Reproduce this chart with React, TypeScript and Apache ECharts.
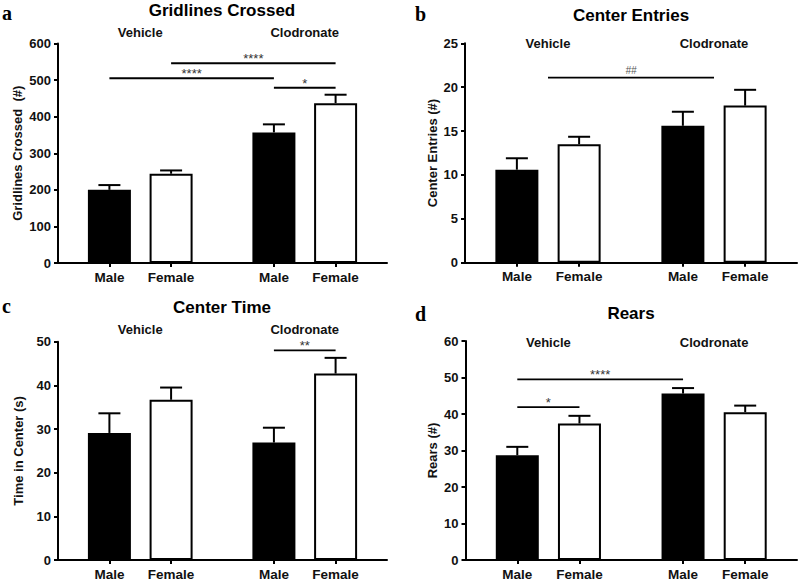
import React, { useEffect, useRef } from "react";
import * as echarts from "echarts";

// ---------- data ----------
const categories = ["Male", "Female", "Male", "Female"];
const groups = ["Vehicle", "Clodronate"];

const gridlinesMean = [200, 244, 357, 437];
const gridlinesSem = [13, 9, 22, 23];
const entriesMean = [10.6, 13.5, 15.6, 17.9];
const entriesSem = [1.3, 0.85, 1.6, 1.8];
const timeMean = [29.1, 36.7, 26.9, 42.7];
const timeSem = [4.5, 2.8, 3.4, 3.6];
const rearsMean = [28.7, 37.4, 45.6, 40.5];
const rearsSem = [2.3, 2.1, 1.5, 1.8];

// significance: [fromBar, toBar, value, label]  (x.5 = midpoint of a group)
const gridlinesSig: any[] = [[0, 2, 505, "****"], [1, 3, 546, "****"], [2, 3, 479, "*"]];
const entriesSig: any[] = [[0.5, 2.5, 21.1, "##"]];
const timeSig: any[] = [[2, 3, 48.0, "**"]];
const rearsSig: any[] = [[0, 2, 49.5, "****"], [0, 1, 41.9, "*"]];

const titles = ["Gridlines Crossed", "Center Entries", "Center Time", "Rears"];
const yNames = ["Gridlines Crossed  (#)", "Center Entries (#)", "Time in Center (s)", "Rears (#)"];
const yMax = [600, 25, 50, 60];
const yStep = [100, 5, 10, 10];
const panelLetters = ["a", "b", "c", "d"];

// ---------- layout ----------
const SLOT = [2, 5, 10, 13];
const N_SLOTS = 16;
const GRIDS = [
  { left: 58, top: 43.5, width: 329, height: 219.5 },
  { left: 465, top: 43.3, width: 332, height: 219.4 },
  { left: 58, top: 341.7, width: 329, height: 218.3 },
  { left: 465.5, top: 341, width: 331.5, height: 219 },
];
const NAME_GAPS = [34, 26.5, 33.5, 27];
const FONT = '"Liberation Sans", Arial, sans-serif';

function barToSlot(b: number) {
  const f = Math.floor(b);
  const c = Math.ceil(b);
  return SLOT[f] + (b - f) * (SLOT[c] - SLOT[f]);
}

const panels = [
  { mean: gridlinesMean, sem: gridlinesSem, sig: gridlinesSig },
  { mean: entriesMean, sem: entriesSem, sig: entriesSig },
  { mean: timeMean, sem: timeSem, sig: timeSig },
  { mean: rearsMean, sem: rearsSem, sig: rearsSig },
];

function txt(text: string, x: number, y: number, font: string, align = "center", vAlign = "middle", fill = "#000") {
  return {
    type: "text",
    x,
    y,
    silent: true,
    style: {
      text,
      font,
      fill,
      align,
      verticalAlign: vAlign,
      textAlign: align,
      textVerticalAlign: vAlign,
    },
  };
}

export default function App() {
  const ref = useRef<HTMLDivElement>(null);
  useEffect(() => {
    if (!ref.current) return;
    const chart = echarts.init(ref.current, undefined, { renderer: "svg" });
    const slotLabels = Array.from({ length: N_SLOTS }, () => "");
    SLOT.forEach((s, i) => (slotLabels[s] = categories[i]));
    const showIdx = (idx: number) => SLOT.indexOf(idx) >= 0;

    const grid: any[] = [];
    const xAxis: any[] = [];
    const yAxis: any[] = [];
    const series: any[] = [];

    panels.forEach((p, pi) => {
      grid.push({ ...GRIDS[pi], containLabel: false });
      xAxis.push({
        type: "category",
        gridIndex: pi,
        data: slotLabels,
        boundaryGap: true,
        axisLine: { lineStyle: { color: "#000", width: 2 } },
        axisTick: { show: true, alignWithLabel: true, interval: (i: number) => showIdx(i), length: 4, lineStyle: { color: "#000", width: 2 } },
        axisLabel: { interval: (i: number) => showIdx(i), color: "#111", fontFamily: FONT, fontWeight: "bold", fontSize: 13.5, margin: 7 },
        splitLine: { show: false },
      });
      yAxis.push({
        type: "value",
        gridIndex: pi,
        min: 0,
        max: yMax[pi],
        interval: yStep[pi],
        name: yNames[pi],
        nameLocation: "middle",
        nameGap: NAME_GAPS[pi],
        nameTextStyle: { color: "#111", fontFamily: FONT, fontWeight: "bold", fontSize: 13 },
        axisLine: { show: true, lineStyle: { color: "#000", width: 2 } },
        axisTick: { show: true, length: 4, lineStyle: { color: "#000", width: 2 } },
        axisLabel: { color: "#111", fontFamily: FONT, fontWeight: "bold", fontSize: 13, margin: 7 },
        splitLine: { show: false },
      });
      series.push({
        type: "bar",
        xAxisIndex: pi,
        yAxisIndex: pi,
        barWidth: 43,
        data: p.mean.map((m, i) => ({
          value: [SLOT[i], m],
          itemStyle: { color: i % 2 === 0 ? "#000" : "#fff", borderColor: "#000", borderWidth: 2 },
        })),
        z: 2,
      });
      series.push({
        type: "custom",
        xAxisIndex: pi,
        yAxisIndex: pi,
        encode: { x: 0, y: 1 },
        data: p.mean.map((m, i) => [SLOT[i], m, p.sem[i]]),
        z: 3,
        renderItem: (params: any, api: any) => {
          const x = api.value(0);
          const m = api.value(1);
          const s = api.value(2);
          const top = api.coord([x, m + s]);
          const base = api.coord([x, m]);
          const st = { stroke: "#000", lineWidth: 2 };
          return {
            type: "group",
            children: [
              { type: "line", shape: { x1: top[0], y1: base[1], x2: top[0], y2: top[1] }, style: st },
              { type: "line", shape: { x1: top[0] - 11, y1: top[1], x2: top[0] + 11, y2: top[1] }, style: st },
            ],
          };
        },
      });
      series.push({
        type: "custom",
        xAxisIndex: pi,
        yAxisIndex: pi,
        encode: { x: [0, 1], y: 2 },
        data: p.sig.map((s: any[]) => [barToSlot(s[0]), barToSlot(s[1]), s[2]]),
        z: 4,
        renderItem: (params: any, api: any) => {
          const a = api.value(0);
          const b = api.value(1);
          const v = api.value(2);
          const p0 = api.coord([0, v]);
          const p1 = api.coord([1, v]);
          const step = p1[0] - p0[0];
          const xa = p0[0] + a * step;
          const xb = p0[0] + b * step;
          const label = p.sig[params.dataIndex][3];
          const isHash = label.indexOf("#") >= 0;
          return {
            type: "group",
            children: [
              { type: "line", shape: { x1: xa, y1: p0[1], x2: xb, y2: p0[1] }, style: { stroke: "#000", lineWidth: 1.8 } },
              {
                type: "text",
                x: (xa + xb) / 2,
                y: isHash ? p0[1] - 7 : p0[1] + 2,
                style: {
                  text: label,
                  font: isHash ? `italic 10px ${FONT}` : `13px ${FONT}`,
                  fill: isHash ? "#555" : "#333",
                  align: "center",
                  verticalAlign: isHash ? "middle" : "bottom",
                  textAlign: "center",
                  textVerticalAlign: isHash ? "middle" : "bottom",
                },
              },
            ],
          };
        },
      });
    });

    const titlePos = [
      [222, 10],
      [631, 15],
      [222, 307],
      [631, 313],
    ];
    const groupY = [32, 43, 329, 342];
    const letterPos = [
      [2, 23],
      [415, 24],
      [2, 316],
      [415, 324],
    ];

    const graphic: any[] = [];
    GRIDS.forEach((g, pi) => {
      graphic.push(txt(titles[pi], titlePos[pi][0], titlePos[pi][1], `bold 17px ${FONT}`));
      graphic.push(txt(panelLetters[pi], letterPos[pi][0], letterPos[pi][1], 'bold 20px "Liberation Serif", "Times New Roman", serif', "left", "bottom"));
      const step = g.width / N_SLOTS;
      const c1 = g.left + ((SLOT[0] + SLOT[1]) / 2 + 0.5) * step;
      const c2 = g.left + ((SLOT[2] + SLOT[3]) / 2 + 0.5) * step;
      graphic.push(txt(groups[0], c1, groupY[pi], `bold 13px ${FONT}`, "center", "middle", "#111"));
      graphic.push(txt(groups[1], c2, groupY[pi], `bold 13px ${FONT}`, "center", "middle", "#111"));
    });

    chart.setOption({
      animation: false,
      backgroundColor: "#fff",
      grid,
      xAxis,
      yAxis,
      series,
      graphic,
    });
    return () => chart.dispose();
  }, []);
  return <div ref={ref} style={{ position: "fixed", left: 0, top: 0, width: 800, height: 582, background: "#fff" }} />;
}
